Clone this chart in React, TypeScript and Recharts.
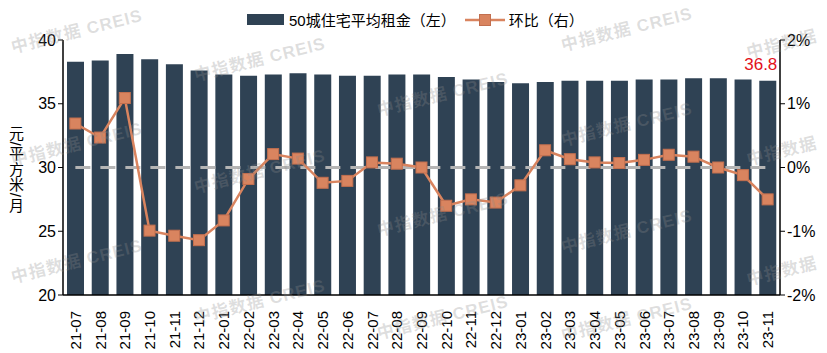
import {
  Bar,
  ComposedChart,
  LabelList,
  Line,
  ReferenceLine,
  XAxis,
  YAxis,
} from "recharts";

const months = [
  "21-07", "21-08", "21-09", "21-10", "21-11", "21-12",
  "22-01", "22-02", "22-03", "22-04", "22-05", "22-06",
  "22-07", "22-08", "22-09", "22-10", "22-11", "22-12",
  "23-01", "23-02", "23-03", "23-04", "23-05", "23-06",
  "23-07", "23-08", "23-09", "23-10", "23-11",
];

// 50城住宅平均租金（元/平方米/月）
const rent = [
  38.3, 38.4, 38.9, 38.5, 38.1, 37.6,
  37.3, 37.2, 37.3, 37.4, 37.3, 37.2,
  37.2, 37.3, 37.3, 37.1, 36.9, 36.7,
  36.6, 36.7, 36.8, 36.8, 36.8, 36.9,
  36.9, 37.0, 37.0, 36.9, 36.8,
];

// 环比（%）
const mom = [
  0.69, 0.47, 1.09, -0.99, -1.07, -1.14,
  -0.83, -0.18, 0.21, 0.14, -0.24, -0.21,
  0.08, 0.06, 0.0, -0.6, -0.5, -0.55,
  -0.28, 0.27, 0.13, 0.08, 0.07, 0.12,
  0.2, 0.17, 0.0, -0.12, -0.5,
];

const leftTicks = [20, 25, 30, 35, 40];
const rightTicks = [-2, -1, 0, 1, 2];

// watermark centres; the right-hand column only shows the Chinese part
const marks: [number, number, string][] = [
  [77, 32, "中指数据 CREIS"], [260, 60, "中指数据 CREIS"], [443, 95, "中指数据 CREIS"], [627, 30, "中指数据 CREIS"], [782, 45, "中指数据"],
  [77, 145, "中指数据 CREIS"], [260, 172, "中指数据 CREIS"], [443, 215, "中指数据 CREIS"], [627, 125, "中指数据 CREIS"], [782, 152, "中指数据"],
  [77, 262, "中指数据 CREIS"], [260, 302, "中指数据 CREIS"], [443, 318, "中指数据 CREIS"], [627, 232, "中指数据 CREIS"], [782, 272, "中指数据"],
  [627, 320, "中指数据 CREIS"],
];

const data = months.map((m, i) => ({ month: m, rent: rent[i], mom: mom[i] }));

const BAR = "#2f4254";
const LINE = "#d9845f";
const FONT = '"Liberation Sans", Arial, "Noto Sans CJK SC", sans-serif';

function MonthTick({ x, y, payload }: any) {
  return (
    <text
      x={x}
      y={y + 8}
      transform={`rotate(-90 ${x} ${y + 8})`}
      textAnchor="end"
      dominantBaseline="central"
      fontSize={15}
      fill="#000"
      fontFamily={FONT}
    >
      {payload.value}
    </text>
  );
}

function Square({ cx, cy }: any) {
  if (cx == null || cy == null) return null;
  return <rect x={cx - 5.5} y={cy - 5.5} width={11} height={11} fill={LINE} stroke="#c26f4f" strokeWidth={1} />;
}

function LastLabel({ x, y, width, index, value }: any) {
  if (index !== rent.length - 1) return null;
  return (
    <text x={x + width / 2 - 7} y={y - 16} textAnchor="middle" dominantBaseline="central" fontSize={17} fill="#e3101a" fontFamily={FONT}>
      {value}
    </text>
  );
}

export default function App() {
  return (
    <div style={{ position: "relative", width: 827, height: 353, overflow: "hidden", fontFamily: FONT, background: "#fff" }}>
      <style>{`body{margin:0}`}</style>
      <ComposedChart width={827} height={353} data={data} margin={{ top: 40, right: 0, bottom: 0, left: 0 }}>
        <XAxis
          dataKey="month"
          interval={0}
          height={58}
          tick={<MonthTick />}
          tickLine={false}
          axisLine={{ stroke: "#000", strokeWidth: 1.5 }}
        />
        <YAxis
          yAxisId="left"
          domain={[20, 40]}
          ticks={leftTicks}
          width={63}
          tick={{ fontSize: 16, fill: "#000", fontFamily: FONT }}
          tickSize={5}
          tickLine={{ stroke: "#000" }}
          axisLine={{ stroke: "#000", strokeWidth: 1.5 }}
        />
        <YAxis
          yAxisId="right"
          orientation="right"
          domain={[-2, 2]}
          ticks={rightTicks}
          tickFormatter={(v) => `${v}%`}
          width={47}
          tick={{ fontSize: 16, fill: "#000", fontFamily: FONT }}
          tickSize={5}
          tickLine={{ stroke: "#000" }}
          axisLine={{ stroke: "#000", strokeWidth: 1.5 }}
        />
        <Bar yAxisId="left" dataKey="rent" fill={BAR} barSize={17} isAnimationActive={false}>
          <LabelList dataKey="rent" content={<LastLabel />} />
        </Bar>
        <ReferenceLine
          yAxisId="right"
          segment={[{ x: months[0], y: 0 }, { x: months[months.length - 1], y: 0 }]}
          stroke="#b5b5b5"
          strokeWidth={3}
          strokeDasharray="15 10"
        />
        <Line
          yAxisId="right"
          dataKey="mom"
          stroke={LINE}
          strokeWidth={2.5}
          dot={<Square />}
          activeDot={false}
          isAnimationActive={false}
        />
      </ComposedChart>

      <div style={{ position: "absolute", left: 247, top: 9, display: "flex", alignItems: "center", fontSize: 15, color: "#000", whiteSpace: "nowrap" }}>
        <span style={{ display: "inline-block", width: 37, height: 11, background: BAR, marginRight: 5 }} />
        <span>50城住宅平均租金（左）</span>
        <svg width={40} height={12} style={{ marginLeft: 9, marginRight: 4 }}>
          <line x1={0} y1={6} x2={40} y2={6} stroke={LINE} strokeWidth={2.5} />
          <rect x={14.5} y={0.5} width={11} height={11} fill={LINE} stroke="#c26f4f" />
        </svg>
        <span>环比（右）</span>
      </div>

      <div style={{ position: "absolute", left: 7, top: 126, writingMode: "vertical-rl", fontSize: 15, lineHeight: "16px", letterSpacing: 0.5, color: "#000" }}>
        元/平方米/月
      </div>

      {marks.map(([cx, cy, t], i) => (
        <div
          key={i}
          style={{
            position: "absolute",
            left: cx,
            top: cy,
            transform: "translate(-50%, -50%) rotate(-14deg)",
            fontSize: 17,
            fontWeight: "bold",
            letterSpacing: 1,
            lineHeight: "20px",
            color: "rgba(140,140,140,0.28)",
            whiteSpace: "nowrap",
            pointerEvents: "none",
          }}
        >
          {t}
        </div>
      ))}
    </div>
  );
}
